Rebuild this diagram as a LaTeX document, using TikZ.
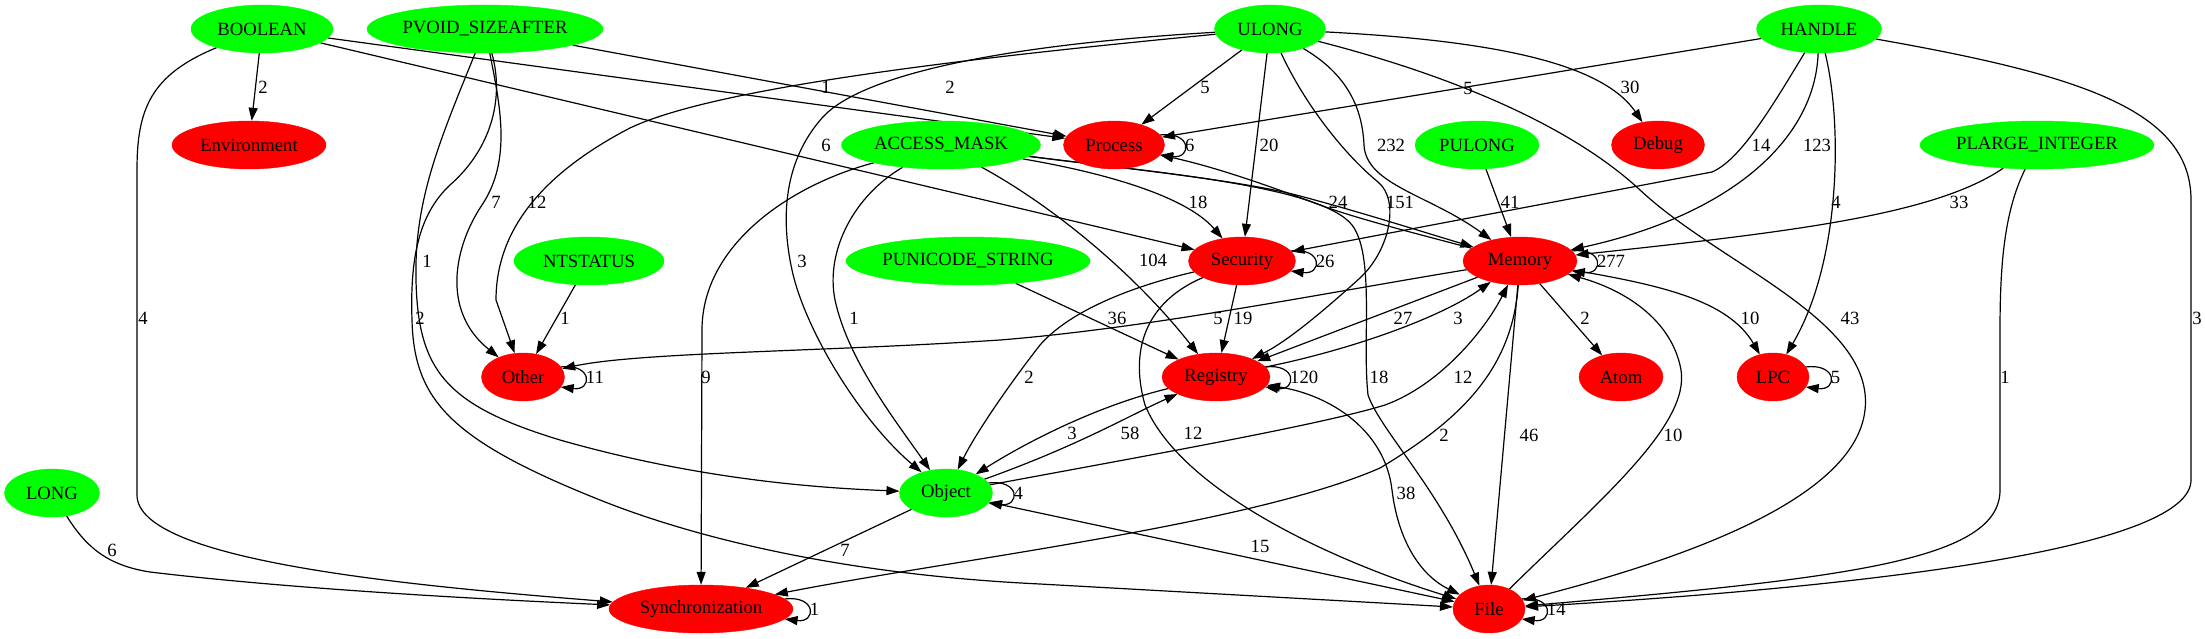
\documentclass[tikz,border=0pt]{standalone}
\usepackage{fontspec}
\setmainfont{Liberation Serif}
\usetikzlibrary{shapes.geometric,arrows.meta,calc,backgrounds}
\definecolor{gn}{RGB}{0,255,0}
\definecolor{rd}{RGB}{255,0,0}
\newcommand{\gvfont}{\fontsize{18.67}{22}\selectfont}
\newcommand{\myloop}[3]{%
  \draw[gedge] ($(#1)+(#2,-10)$) .. controls +(32,-4) and +(32,4) .. ($(#1)+(#2,10)$);
  \node[lbl, anchor=west] at ($(#1)+(#2+25,0)$) {#3};}
\tikzset{
  gnode/.style={ellipse, fill=gn, draw=gn, minimum height=48pt, inner sep=0pt, font=\gvfont},
  rnode/.style={ellipse, fill=rd, draw=rd, minimum height=48pt, inner sep=0pt, font=\gvfont},
  gedge/.style={draw=black, line width=1.2pt, -{Triangle[length=13pt,width=9pt]}},
  gbedge/.style={draw=black, line width=1.2pt, {Triangle[length=13pt,width=9pt]}-{Triangle[length=13pt,width=9pt]}},
  lbl/.style={font=\gvfont, inner sep=0pt},
}
\begin{document}
\begin{tikzpicture}[x=1pt,y=-1pt]
\useasboundingbox (0,0) rectangle (2205,639);
% nodes
\node[gnode, minimum width=142pt] (BOOLEAN) at (262,29) {BOOLEAN};
\node[gnode, minimum width=236pt] (PVOID) at (485,29) {PVOID\_SIZEAFTER};
\node[gnode, minimum width=111pt] (ULONG) at (1270,29) {ULONG};
\node[gnode, minimum width=125pt] (HANDLE) at (1819,29) {HANDLE};
\node[rnode, minimum width=154pt] (Environment) at (249,145) {Environment};
\node[gnode, minimum width=199pt] (ACCESS) at (941,145) {ACCESS\_MASK};
\node[rnode, minimum width=101pt] (Process) at (1114,145) {Process};
\node[gnode, minimum width=124pt] (PULONG) at (1477,145) {PULONG};
\node[rnode, minimum width=93pt] (Debug) at (1658,145) {Debug};
\node[gnode, minimum width=234pt] (PLARGE) at (2037,145) {PLARGE\_INTEGER};
\node[gnode, minimum width=150pt] (NTSTATUS) at (589,261) {NTSTATUS};
\node[gnode, minimum width=244pt] (PUNICODE) at (968,261) {PUNICODE\_STRING};
\node[rnode, minimum width=107pt] (Security) at (1242,261) {Security};
\node[rnode, minimum width=114pt] (Memory) at (1520,261) {Memory};
\node[rnode, minimum width=83pt] (Other) at (523,377) {Other};
\node[rnode, minimum width=108pt] (Registry) at (1216,377) {Registry};
\node[rnode, minimum width=84pt] (Atom) at (1621,377) {Atom};
\node[rnode, minimum width=72pt] (LPC) at (1773,377) {LPC};
\node[gnode, minimum width=95pt] (LONG) at (52,493) {LONG};
\node[gnode, minimum width=93pt] (Object) at (946,493) {Object};
\node[rnode, minimum width=184pt] (Sync) at (701,609) {Synchronization};
\node[rnode, minimum width=72pt] (File) at (1489,609) {File};
\begin{scope}[on background layer]
\fill[white] (0,0) rectangle (2205,639);
% BOOLEAN
\draw[gedge] (BOOLEAN) -- (Environment) node[lbl] at (263,87) {2};
\draw[gedge] (BOOLEAN) -- (Process) node[lbl] at (826,87) {1};
\draw[gedge] (BOOLEAN) -- (Security);
\draw[gedge] (BOOLEAN) .. controls (150,75) and (137,110) .. (137,170) -- (137,495) .. controls (137,560) and (400,585) .. (Sync) node[lbl] at (143,318) {4};
% PVOID_SIZEAFTER
\draw[gedge] (PVOID) -- (Process) node[lbl] at (950,87) {2};
\draw[gedge] (PVOID) .. controls (500,105) and (512,160) .. (482,205) .. controls (455,245) and (440,310) .. (Other) node[lbl] at (496,202) {7};
\draw[gedge] (PVOID) .. controls (440,140) and (414,200) .. (416,280) .. controls (418,370) and (445,405) .. (560,440) .. controls (700,480) and (820,488) .. (Object) node[lbl] at (427,261) {1};
\draw[gedge] (PVOID) .. controls (505,100) and (490,150) .. (450,185) .. controls (418,215) and (410,260) .. (412,320) .. controls (414,400) and (450,440) .. (600,500) .. controls (700,540) and (850,575) .. (1040,584) -- (File) node[lbl] at (420,318) {2};
% ULONG
\draw[gedge] (ULONG) -- (Process) node[lbl] at (1205,87) {5};
\draw[gedge] (ULONG) .. controls (1000,55) and (720,85) .. (630,128) .. controls (530,180) and (496,240) .. (496,300) -- (Other) node[lbl] at (537,202) {12};
\draw[gedge] (ULONG) .. controls (1000,45) and (860,75) .. (822,118) .. controls (785,160) and (780,215) .. (792,270) .. controls (805,330) and (860,420) .. (Object) node[lbl] at (826,145) {6} node[lbl] at (802,261) {3};
\draw[gedge] (ULONG) -- (Security) node[lbl] at (1269,145) {20};
\draw[gedge] (ULONG) .. controls (1305,105) and (1345,155) .. (1378,182) .. controls (1400,200) and (1390,250) .. (1360,278) .. controls (1330,305) and (1290,340) .. (Registry) node[lbl] at (1400,202) {151};
\draw[gedge] (ULONG) .. controls (1340,70) and (1362,100) .. (1364,145) .. controls (1366,185) and (1430,195) .. (Memory) node[lbl] at (1391,145) {232};
\draw[gedge] (ULONG) .. controls (1480,40) and (1600,60) .. (Debug) node[lbl] at (1630,87) {30};
\draw[gedge] (ULONG) .. controls (1450,75) and (1570,125) .. (1640,190) .. controls (1720,265) and (1875,320) .. (1865,410) .. controls (1855,500) and (1680,560) .. (File) node[lbl] at (1850,318) {43};
% HANDLE
\draw[gedge] (HANDLE) -- (Process) node[lbl] at (1468,88) {5};
\draw[gedge] (HANDLE) .. controls (1770,110) and (1740,160) .. (1712,172) -- (Security) node[lbl] at (1761,145) {14};
\draw[gedge] (HANDLE) .. controls (1815,140) and (1730,215) .. (Memory) node[lbl] at (1817,145) {123};
\draw[gedge] (HANDLE) .. controls (1842,120) and (1842,260) .. (LPC) node[lbl] at (1836,202) {4};
\draw[gedge] (HANDLE) .. controls (2080,75) and (2191,110) .. (2191,200) -- (2191,480) .. controls (2191,545) and (1900,585) .. (File) node[lbl] at (2197,318) {3};
% PULONG, PLARGE_INTEGER, NTSTATUS, PUNICODE_STRING
\draw[gedge] (PULONG) -- (Memory) node[lbl] at (1510,202) {41};
\draw[gedge] (PLARGE) .. controls (1935,215) and (1790,232) .. (Memory) node[lbl] at (1959,202) {33};
\draw[gedge] (PLARGE) .. controls (2005,210) and (2000,260) .. (2000,330) -- (2000,490) .. controls (2000,560) and (1850,578) .. (File) node[lbl] at (2005,377) {1};
\draw[gedge] (NTSTATUS) -- (Other) node[lbl] at (565,318) {1};
\draw[gedge] (PUNICODE) -- (Registry) node[lbl] at (1117,318) {36};
% ACCESS_MASK
\draw[gedge] (ACCESS) .. controls (1100,172) and (1185,195) .. (Security) node[lbl] at (1198,202) {18};
\draw[gedge] (ACCESS) .. controls (1120,168) and (1240,180) .. (1300,196) .. controls (1360,212) and (1410,228) .. (Memory);
\draw[gedge] (Memory) .. controls (1410,232) and (1355,218) .. (1320,205) .. controls (1280,190) and (1220,168) .. (Process) node[lbl] at (1338,202) {24};
\draw[gedge] (ACCESS) .. controls (1060,210) and (1140,280) .. (Registry) node[lbl] at (1153,260) {104};
\draw[gedge] (ACCESS) .. controls (855,195) and (825,250) .. (835,300) .. controls (848,360) and (895,420) .. (Object) node[lbl] at (854,318) {1};
\draw[gedge] (ACCESS) .. controls (790,185) and (702,245) .. (702,330) -- (Sync) node[lbl] at (706,377) {9};
\draw[gedge] (ACCESS) .. controls (1150,172) and (1320,185) .. (1352,225) .. controls (1375,255) and (1362,340) .. (1368,395) .. controls (1380,430) and (1440,490) .. (File) node[lbl] at (1379,377) {18};
% Security
\draw[gedge] (Security) -- (Registry) node[lbl] at (1243,318) {19};
\draw[gedge] (Security) .. controls (1150,282) and (1075,305) .. (1040,345) .. controls (1005,390) and (975,435) .. (Object) node[lbl] at (1029,377) {2};
\draw[gedge] (Security) .. controls (1150,300) and (1128,345) .. (1145,405) .. controls (1180,490) and (1330,560) .. (File) node[lbl] at (1193,433) {12};
% Memory
\draw[gedge] (Memory) .. controls (1330,292) and (1150,328) .. (1000,340) .. controls (820,352) and (640,352) .. (Other) node[lbl] at (1218,318) {5};
\draw[gedge] (Memory) -- (Registry) node[lbl] at (1403,318) {27};
\draw[gedge] (Registry) .. controls (1350,350) and (1440,318) .. (Memory) node[lbl] at (1458,318) {3};
\draw[gedge] (Memory) -- (Atom) node[lbl] at (1585,318) {2};
\draw[gedge] (Memory) .. controls (1660,285) and (1728,300) .. (LPC) node[lbl] at (1750,318) {10};
\draw[gedge] (Memory) -- (File) node[lbl] at (1529,435) {46};
\draw[gedge] (Memory) .. controls (1512,370) and (1460,420) .. (1380,468) .. controls (1250,525) and (950,560) .. (Sync) node[lbl] at (1444,435) {2};
\draw[gedge] (File) .. controls (1600,500) and (1690,425) .. (1681,370) .. controls (1672,320) and (1625,290) .. (Memory) node[lbl] at (1673,435) {10};
\draw[gedge] (Object) .. controls (1150,455) and (1320,425) .. (1385,405) .. controls (1440,385) and (1485,330) .. (Memory) node[lbl] at (1463,377) {12};
% Registry / Object
\draw[gedge] (Registry) .. controls (1100,405) and (1030,440) .. (Object) node[lbl] at (1072,433) {3};
\draw[gedge] (Object) .. controls (1080,445) and (1130,415) .. (Registry) node[lbl] at (1130,433) {58};
\draw[gbedge] (Registry) .. controls (1330,395) and (1385,430) .. (1392,490) .. controls (1398,540) and (1420,575) .. (File) node[lbl] at (1406,493) {38};
\draw[gedge] (Object) -- (Sync) node[lbl] at (845,550) {7};
\draw[gbedge] (Object) -- (File) node[lbl] at (1260,546) {15};
\draw[gedge] (LONG) .. controls (85,545) and (105,565) .. (150,572) .. controls (300,590) and (500,600) .. (Sync) node[lbl] at (112,550) {6};
% self loops
\myloop{Process}{46}{6}
\myloop{Security}{48.6}{26}
\myloop{Memory}{51.8}{277}
\myloop{Registry}{49}{120}
\myloop{Other}{37.7}{11}
\myloop{LPC}{32.7}{5}
\myloop{Object}{42.3}{4}
\myloop{Sync}{83.6}{1}
\myloop{File}{32.7}{14}
\end{scope}
\end{tikzpicture}
\end{document}
